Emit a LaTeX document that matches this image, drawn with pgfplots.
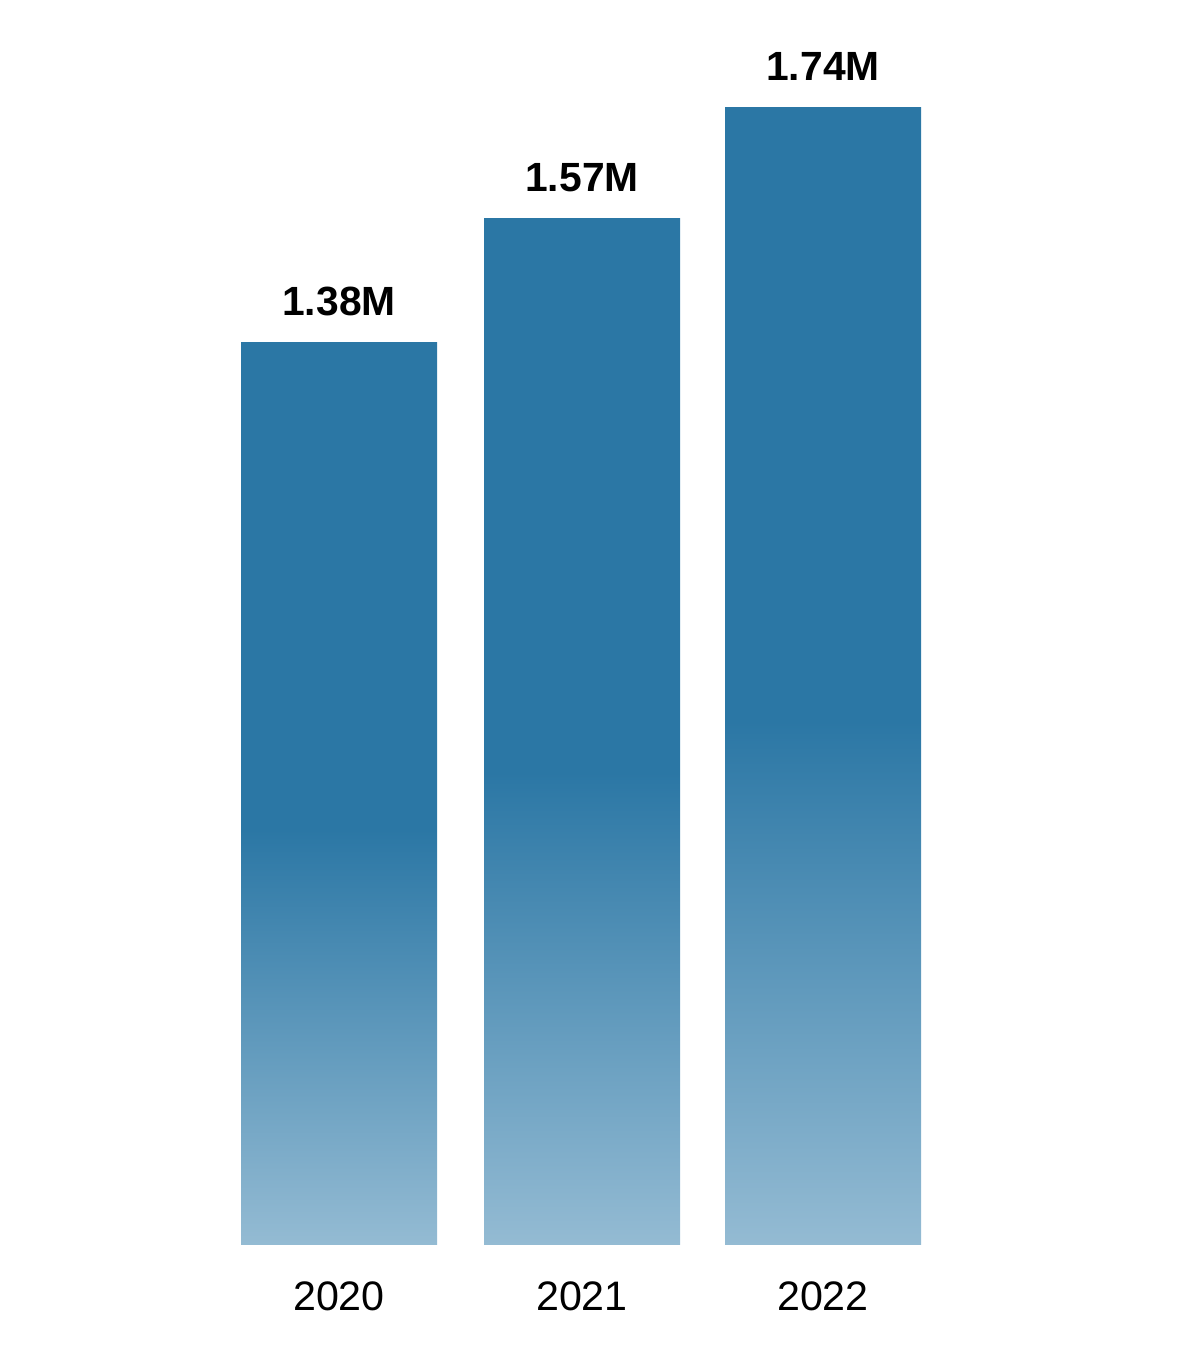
\documentclass[border=0pt]{standalone}
\usepackage{pgfplots}
\pgfplotsset{compat=1.18}
\usepackage{fontspec}
\setmainfont{Liberation Sans}

\definecolor{bardark}{HTML}{2B77A5}
\definecolor{barlight}{HTML}{94BBD3}
% bottom 46% of each bar fades out, top part solid
\pgfdeclareverticalshading{barfade}{100bp}{%
  color(0bp)=(barlight); color(25bp)=(barlight);
  color(48bp)=(bardark); color(100bp)=(bardark)}

\begin{document}
\begin{tikzpicture}
\begin{axis}[
    scale only axis,
    width=300pt, height=311.25pt,
    xmin=0, xmax=1200,
    ymin=0, ymax=1.9037,
    clip=false,
    axis line style={draw=none},
    tick style={draw=none},
    ytick=\empty,
    xtick={339,582,823},
    xticklabels={2020,2021,2022},
    xticklabel style={font=\fontsize{10.3pt}{12pt}\selectfont, anchor=north, inner sep=0pt, yshift=-4.6pt},
    ybar, bar width=196, bar shift=0pt,
    nodes near coords,
    point meta=explicit symbolic,
    every node near coord/.append style={font=\bfseries\fontsize{10.2pt}{12pt}\selectfont,
        anchor=south, inner sep=0pt, yshift=6.4pt, text=black},
]
\addplot[draw=none, shading=barfade] coordinates {(339,1.38) [1.38M]};
\addplot[draw=none, shading=barfade] coordinates {(582,1.57) [1.57M]};
\addplot[draw=none, shading=barfade] coordinates {(823,1.74) [1.74M]};
\coordinate (bbll) at (axis cs:0,-0.1606);
\coordinate (bbur) at (axis cs:1200,1.9037);
\end{axis}
\pgfresetboundingbox
\path[use as bounding box] (bbll) rectangle (bbur);
\end{tikzpicture}
\end{document}
